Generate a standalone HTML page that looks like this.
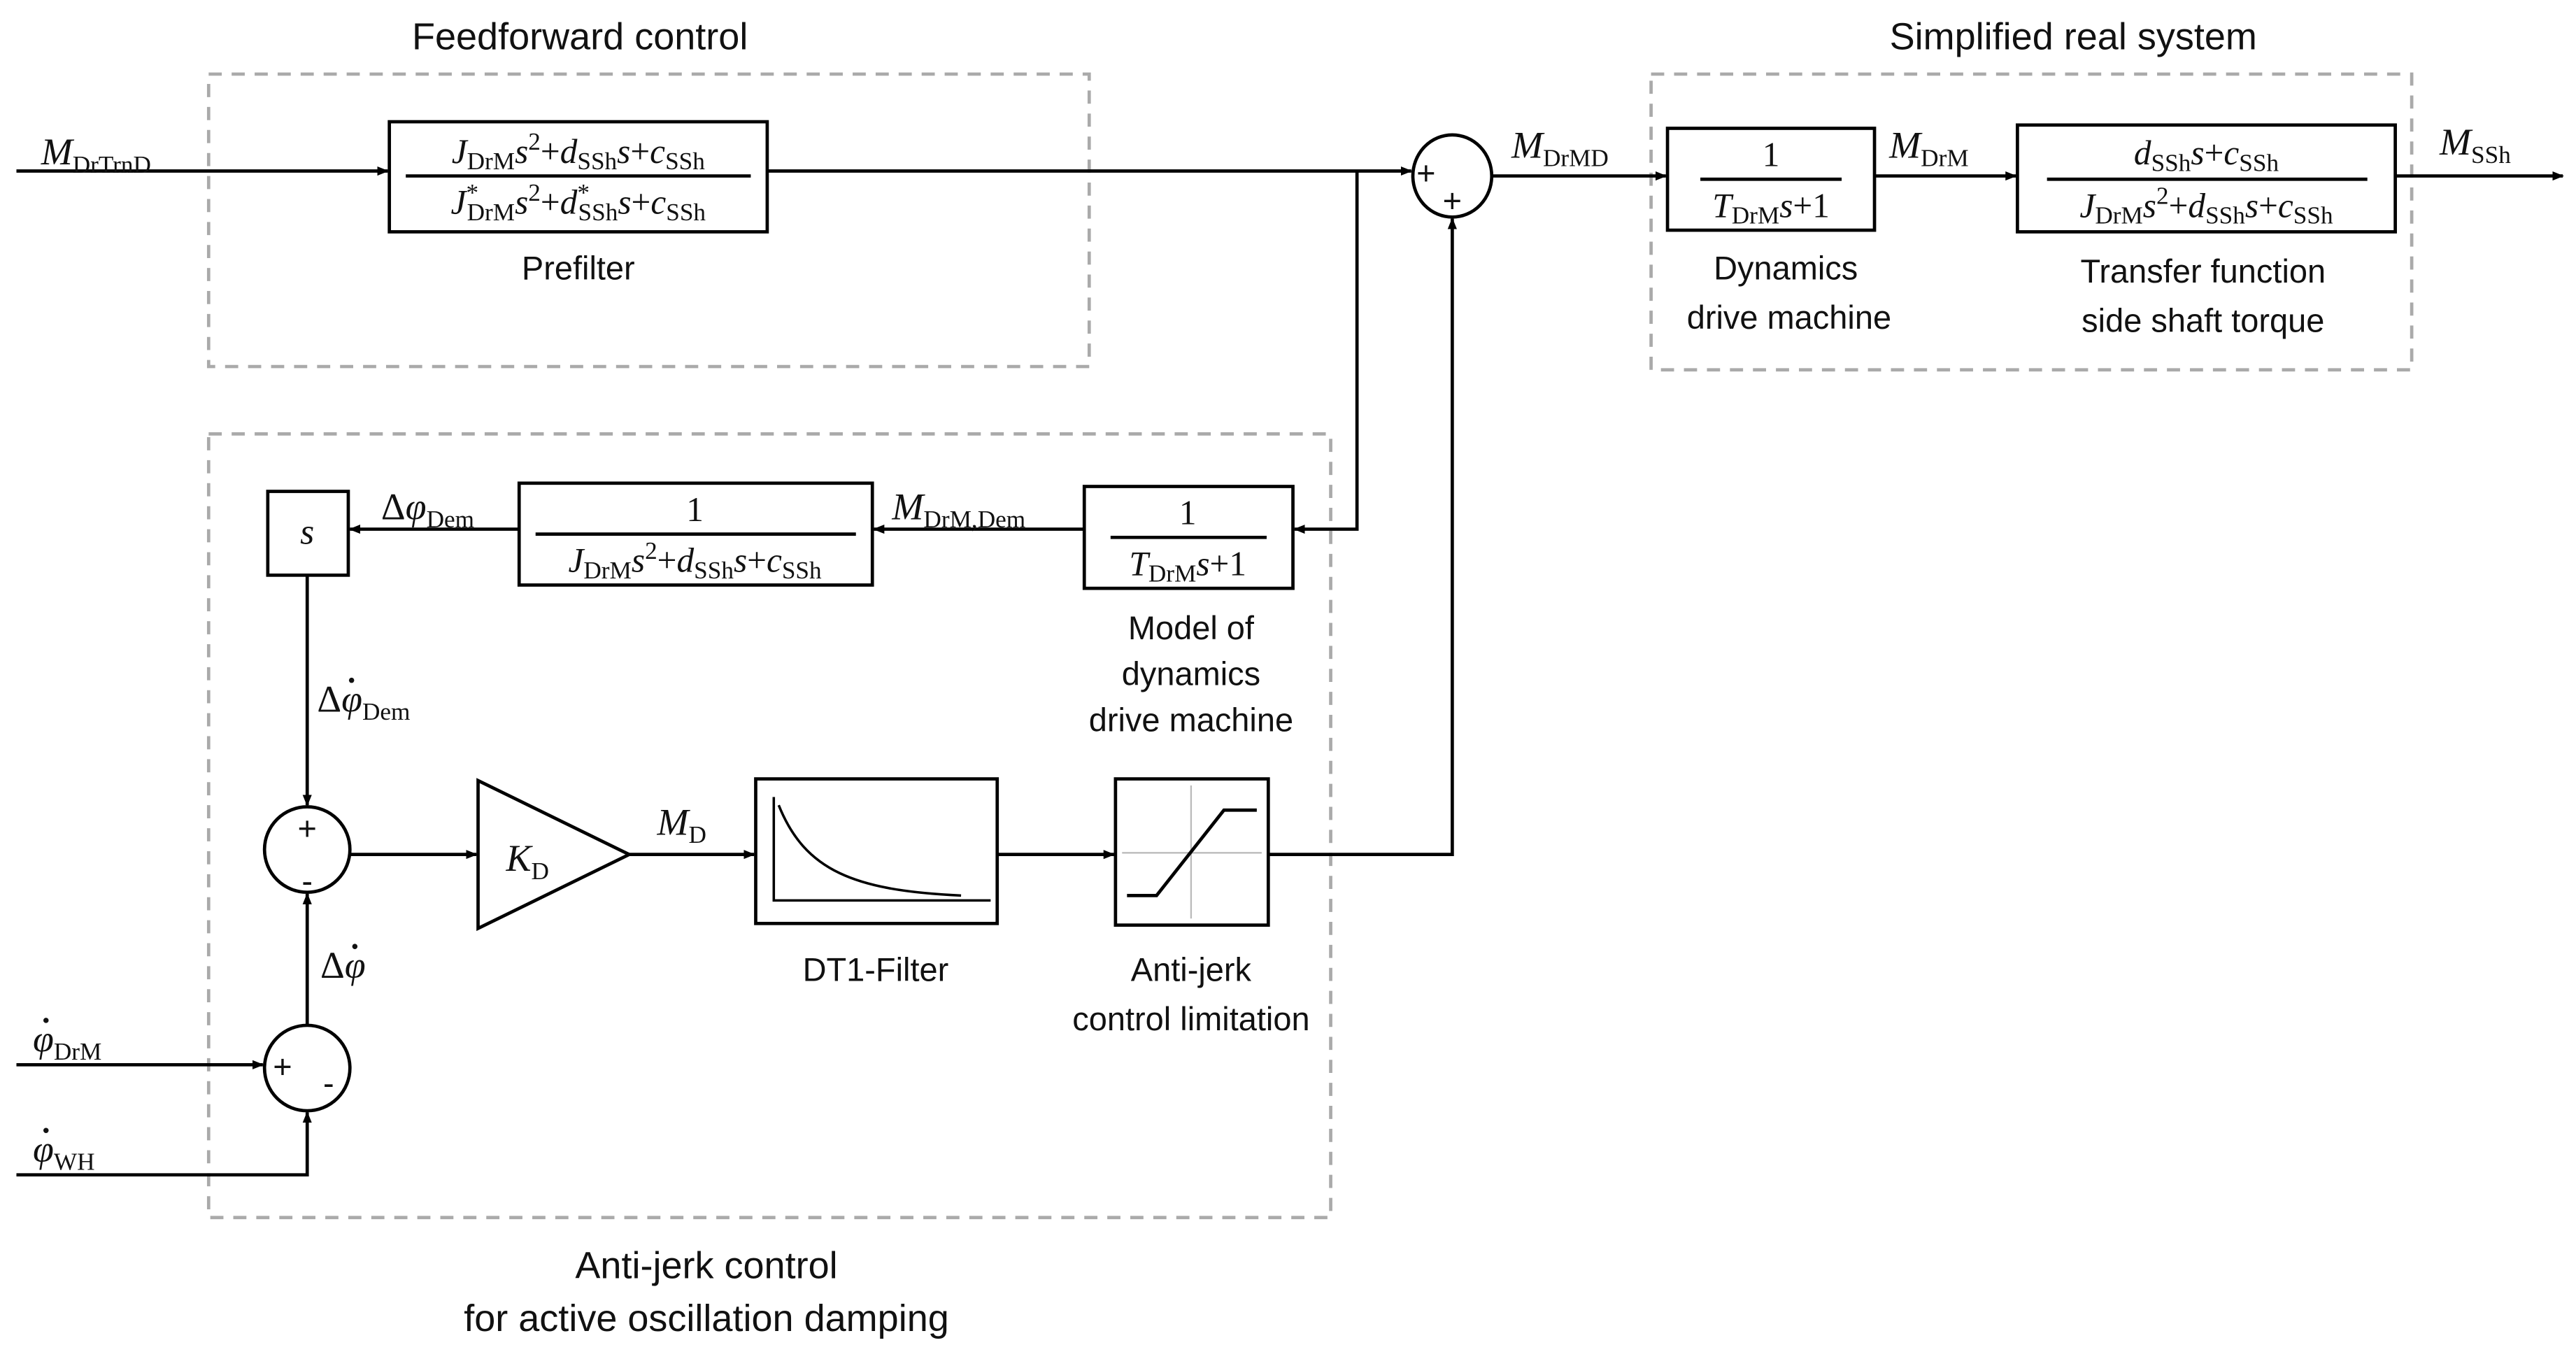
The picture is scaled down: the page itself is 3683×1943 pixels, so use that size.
<!DOCTYPE html>
<html><head><meta charset="utf-8"><style>
html,body{margin:0;padding:0;background:#fff;}
svg{display:block;}
.t{font-family:"Liberation Sans",sans-serif;font-size:20px;fill:#111;}
.m{font-family:"Liberation Serif",serif;font-size:21px;fill:#111;}
.i{font-style:italic;}
.s{font-size:15px;font-style:normal;}
</style></head><body>
<svg width="3683" height="1943" viewBox="0 0 1568 827" xmlns="http://www.w3.org/2000/svg">
<defs><marker id="a" viewBox="0 0 10 10" refX="9" refY="5" markerWidth="7" markerHeight="7" orient="auto" markerUnits="userSpaceOnUse"><path d="M0,1 L10,5 L0,9z" fill="#000"/></marker></defs>
<g fill="none" stroke="#aaa" stroke-width="2" stroke-dasharray="8,6">
<rect x="127" y="45" width="536" height="178"/>
<rect x="1005" y="45" width="463" height="180"/>
<rect x="127" y="264" width="683" height="477"/>
</g>
<g class="t" text-anchor="middle">
<text x="353" y="30" font-size="23">Feedforward control</text>
<text x="1262" y="30" font-size="23">Simplified real system</text>
<text x="352" y="170">Prefilter</text>
<text x="1087" y="170">Dynamics</text><text x="1089" y="200">drive machine</text>
<text x="1341" y="172">Transfer function</text><text x="1341" y="202">side shaft torque</text>
<text x="725" y="389">Model of</text><text x="725" y="417">dynamics</text><text x="725" y="445">drive machine</text>
<text x="533" y="597">DT1-Filter</text>
<text x="725" y="597">Anti-jerk</text><text x="725" y="627">control limitation</text>
<text x="430" y="778" font-size="23">Anti-jerk control</text><text x="430" y="810" font-size="23">for active oscillation damping</text>
</g>
<g fill="#fff" stroke="#000" stroke-width="2">
<rect x="237" y="74" width="230" height="67"/>
<rect x="1015" y="78" width="126" height="62"/>
<rect x="1228" y="76" width="230" height="65"/>
<rect x="660" y="296" width="127" height="62"/>
<rect x="316" y="294" width="215" height="62"/>
<rect x="163" y="299" width="49" height="51"/>
<rect x="460" y="474" width="147" height="88"/>
<rect x="679" y="474" width="93" height="89"/>
<ellipse cx="884" cy="107" rx="24" ry="25"/>
<circle cx="187" cy="517" r="26"/>
<circle cx="187" cy="650" r="26"/>
<path d="M291,475 L383,520 L291,565z"/>
</g>
<g stroke="#000" stroke-width="2" fill="none">
<line x1="247" y1="107" x2="457" y2="107"/>
<line x1="1035" y1="109" x2="1121" y2="109"/>
<line x1="1246" y1="109" x2="1441" y2="109"/>
<line x1="676" y1="327" x2="771" y2="327"/>
<line x1="326" y1="325" x2="521" y2="325"/>
<path d="M471,485 V548 H603" stroke-width="1.5"/>
<path d="M474,490 C490,530 520,542 585,545" stroke-width="1.5"/>
<line x1="725" y1="478" x2="725" y2="559" stroke="#bbb" stroke-width="1"/>
<line x1="683" y1="519" x2="768" y2="519" stroke="#bbb" stroke-width="1"/>
<path d="M686,545 H704 L745,493 H765" stroke-width="2"/>
<line x1="10" y1="104" x2="236" y2="104" marker-end="url(#a)"/>
<line x1="467" y1="104" x2="859" y2="104" marker-end="url(#a)"/>
<path d="M826,104 V322 H788" marker-end="url(#a)"/>
<line x1="908" y1="107" x2="1014" y2="107" marker-end="url(#a)"/>
<line x1="1141" y1="107" x2="1227" y2="107" marker-end="url(#a)"/>
<line x1="1458" y1="107" x2="1560" y2="107" marker-end="url(#a)"/>
<line x1="660" y1="322" x2="532" y2="322" marker-end="url(#a)"/>
<line x1="316" y1="322" x2="213" y2="322" marker-end="url(#a)"/>
<line x1="187" y1="350" x2="187" y2="490" marker-end="url(#a)"/>
<line x1="213" y1="520" x2="290" y2="520" marker-end="url(#a)"/>
<line x1="383" y1="520" x2="459" y2="520" marker-end="url(#a)"/>
<line x1="607" y1="520" x2="678" y2="520" marker-end="url(#a)"/>
<path d="M772,520 H884 V133" marker-end="url(#a)"/>
<line x1="187" y1="624" x2="187" y2="544" marker-end="url(#a)"/>
<line x1="10" y1="648" x2="160" y2="648" marker-end="url(#a)"/>
<path d="M10,715 H187 V677" marker-end="url(#a)"/>
</g>
<g class="t" font-size="16" text-anchor="middle">
<text x="868" y="112">+</text><text x="884" y="129">+</text>
<text x="187" y="511">+</text><text x="187" y="543">-</text>
<text x="172" y="656">+</text><text x="200" y="666">-</text>
</g>
<g class="m">
<text x="25" y="100" font-size="23"><tspan class="i">M</tspan><tspan class="s" font-size="17" dy="5">DrTrnD</tspan></text>
<text x="352" y="99" text-anchor="middle"><tspan class="i">J</tspan><tspan class="s" dy="4">DrM</tspan><tspan class="i" dy="-4">s</tspan><tspan class="s" dy="-8">2</tspan><tspan dy="8">+</tspan><tspan class="i">d</tspan><tspan class="s" dy="4">SSh</tspan><tspan class="i" dy="-4">s</tspan>+<tspan class="i">c</tspan><tspan class="s" dy="4">SSh</tspan></text>
<text x="352" y="130" text-anchor="middle"><tspan class="i">J</tspan><tspan class="s" dy="-8">*</tspan><tspan class="s" dx="-7" dy="12">DrM</tspan><tspan class="i" dy="-4">s</tspan><tspan class="s" dy="-8">2</tspan><tspan dy="8">+</tspan><tspan class="i">d</tspan><tspan class="s" dy="-8">*</tspan><tspan class="s" dx="-7" dy="12">SSh</tspan><tspan class="i" dy="-4">s</tspan>+<tspan class="i">c</tspan><tspan class="s" dy="4">SSh</tspan></text>
<text x="920" y="96" font-size="23"><tspan class="i">M</tspan><tspan class="s" font-size="17" dy="5">DrMD</tspan></text>
<text x="1078" y="101" text-anchor="middle">1</text>
<text x="1078" y="132" text-anchor="middle"><tspan class="i">T</tspan><tspan class="s" dy="4">DrM</tspan><tspan class="i" dy="-4">s</tspan>+1</text>
<text x="1150" y="96" font-size="23"><tspan class="i">M</tspan><tspan class="s" font-size="17" dy="5">DrM</tspan></text>
<text x="1343" y="100" text-anchor="middle"><tspan class="i">d</tspan><tspan class="s" dy="4">SSh</tspan><tspan class="i" dy="-4">s</tspan>+<tspan class="i">c</tspan><tspan class="s" dy="4">SSh</tspan></text>
<text x="1343" y="132" text-anchor="middle"><tspan class="i">J</tspan><tspan class="s" dy="4">DrM</tspan><tspan class="i" dy="-4">s</tspan><tspan class="s" dy="-8">2</tspan><tspan dy="8">+</tspan><tspan class="i">d</tspan><tspan class="s" dy="4">SSh</tspan><tspan class="i" dy="-4">s</tspan>+<tspan class="i">c</tspan><tspan class="s" dy="4">SSh</tspan></text>
<text x="1485" y="94" font-size="23"><tspan class="i">M</tspan><tspan class="s" font-size="17" dy="5">SSh</tspan></text>
<text x="723" y="319" text-anchor="middle">1</text>
<text x="723" y="350" text-anchor="middle"><tspan class="i">T</tspan><tspan class="s" dy="4">DrM</tspan><tspan class="i" dy="-4">s</tspan>+1</text>
<text x="543" y="316" font-size="23"><tspan class="i">M</tspan><tspan class="s" font-size="17" dy="5">DrM,Dem</tspan></text>
<text x="423" y="317" text-anchor="middle">1</text>
<text x="423" y="348" text-anchor="middle"><tspan class="i">J</tspan><tspan class="s" dy="4">DrM</tspan><tspan class="i" dy="-4">s</tspan><tspan class="s" dy="-8">2</tspan><tspan dy="8">+</tspan><tspan class="i">d</tspan><tspan class="s" dy="4">SSh</tspan><tspan class="i" dy="-4">s</tspan>+<tspan class="i">c</tspan><tspan class="s" dy="4">SSh</tspan></text>
<text x="187" y="331" text-anchor="middle" class="i" font-size="22">s</text>
<text x="232" y="316" font-size="23">Δ<tspan class="i">φ</tspan><tspan class="s" font-size="17" dy="5">Dem</tspan></text>
<text x="193" y="433" font-size="23">Δ<tspan class="i">φ</tspan><tspan class="s" font-size="17" dy="5">Dem</tspan></text>
<circle cx="214" cy="414" r="1.6" fill="#111"/>
<text x="308" y="530" font-size="23"><tspan class="i">K</tspan><tspan class="s" font-size="17" dy="5">D</tspan></text>
<text x="400" y="508" font-size="23"><tspan class="i">M</tspan><tspan class="s" font-size="17" dy="5">D</tspan></text>
<text x="195" y="595" font-size="23">Δ<tspan class="i">φ</tspan></text>
<circle cx="216" cy="576" r="1.6" fill="#111"/>
<text x="20" y="640" font-size="23"><tspan class="i">φ</tspan><tspan class="s" font-size="17" dy="5">DrM</tspan></text>
<circle cx="28" cy="621" r="1.6" fill="#111"/>
<text x="20" y="707" font-size="23"><tspan class="i">φ</tspan><tspan class="s" font-size="17" dy="5">WH</tspan></text>
<circle cx="28" cy="688" r="1.6" fill="#111"/>
</g>
</svg>
</body></html>
